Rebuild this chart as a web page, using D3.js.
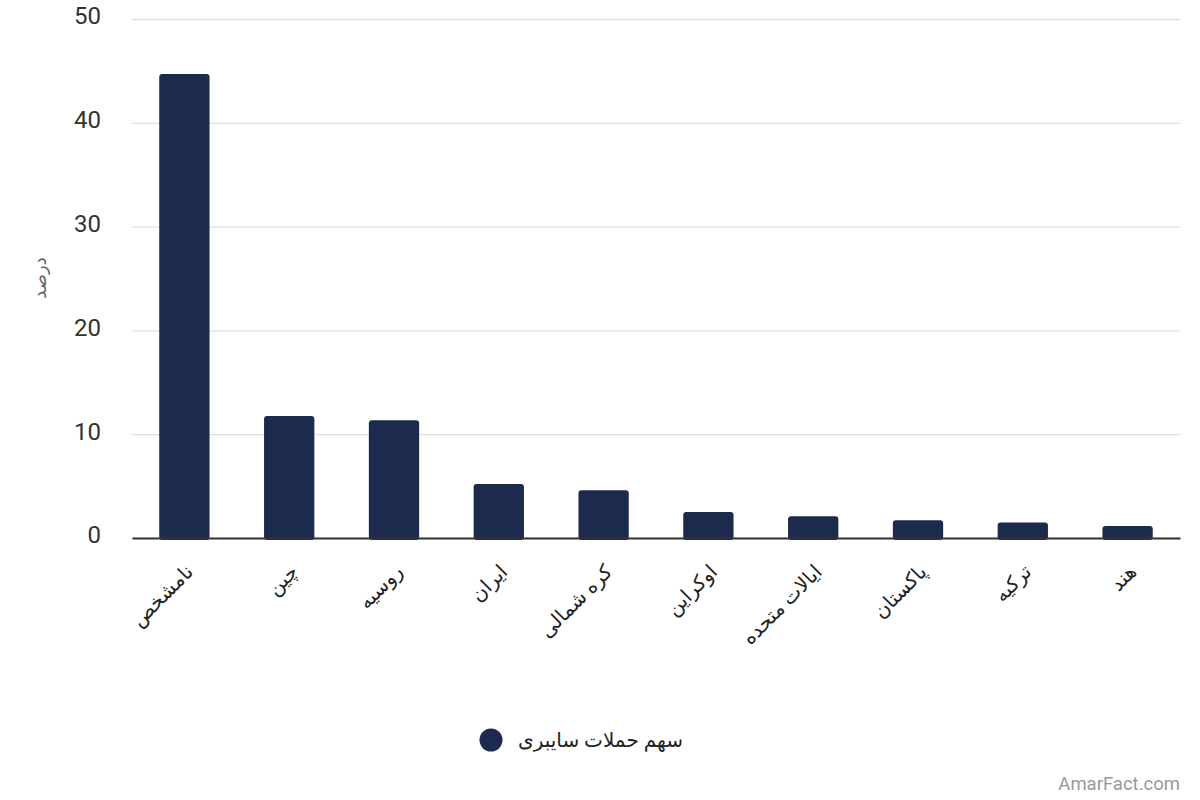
<!DOCTYPE html>
<html>
<head>
<meta charset="utf-8">
<script src="https://cdn.jsdelivr.net/npm/d3@7"></script>
<style>
  body { margin: 0; background: #fff; }
  text { font-family: Roboto, "DejaVu Sans", sans-serif; }
</style>
</head>
<body>
<div class="chart"></div>
<script>
const countries = ['نامشخص', 'چین', 'روسیه', 'ایران', 'کره شمالی', 'اوکراین', 'ایالات متحده', 'پاکستان', 'ترکیه', 'هند'];
const shares = [44.7, 11.75, 11.35, 5.2, 4.6, 2.5, 2.1, 1.7, 1.5, 1.15];
const yTicks = [0, 10, 20, 30, 40, 50];
const seriesName = 'سهم حملات سایبری';
const yTitle = 'درصد';

const margin = { top: 19, right: 20, bottom: 262, left: 132 };
const width = 1200 - margin.left - margin.right;
const height = 800 - margin.top - margin.bottom;
const barColor = '#1c2a4d';

const svg = d3.select('.chart')
  .append('svg')
  .attr('width', 1200)
  .attr('height', 800);

const g = svg.append('g')
  .attr('transform', `translate(${margin.left}, ${margin.top})`);

const x = d3.scaleBand().domain(countries).range([0, width]).paddingInner(0.52).paddingOuter(0.26);
const y = d3.scaleLinear().domain([0, 50]).range([height, 0]);

// grid
const yAxis = d3.axisLeft(y)
  .tickValues(yTicks)
  .tickSize(-width)
  .tickPadding(31);

g.append('g')
  .attr('class', 'axis y-axis')
  .call(yAxis)
  .call(s => s.select('.domain').remove())
  .call(s => s.selectAll('.tick line').attr('stroke', '#e0e0e0').attr('stroke-width', 1.3))
  .call(s => s.selectAll('.tick text')
    .attr('fill', '#333').attr('font-size', 24).attr('dy', '0.2em'));

// bars
g.selectAll('.bar')
  .data(countries)
  .enter()
  .append('rect')
  .attr('class', 'bar')
  .attr('x', d => x(d))
  .attr('width', x.bandwidth())
  .attr('y', (d, i) => y(shares[i]))
  .attr('height', (d, i) => height - y(shares[i]) + 2)
  .attr('rx', 3)
  .attr('fill', barColor);

// baseline
g.append('g')
  .attr('transform', `translate(0, ${height})`)
  .call(d3.axisBottom(x).tickSize(0).tickFormat(''))
  .call(s => s.select('.domain').attr('stroke', '#333').attr('stroke-width', 2));

// x labels
g.append('g')
  .selectAll('text')
  .data(countries)
  .enter()
  .append('text')
  .attr('transform', d => `translate(${x(d) + x.bandwidth() / 2 + 10}, ${height + 35}) rotate(-45)`)
  .attr('text-anchor', 'end')
  .attr('font-size', 20)
  .attr('fill', '#222')
  .text(d => d);

// y title
svg.append('text')
  .attr('transform', 'translate(46, 278) rotate(-90)')
  .attr('text-anchor', 'middle')
  .attr('font-size', 18)
  .attr('fill', '#666')
  .text(yTitle);

// legend
svg.append('circle')
  .attr('cx', 491)
  .attr('cy', 740)
  .attr('r', 11.5)
  .attr('fill', barColor);

svg.append('text')
  .attr('x', 518)
  .attr('y', 747)
  .attr('font-size', 20)
  .attr('fill', '#222')
  .text(seriesName);

// watermark
svg.append('text')
  .attr('x', 1180)
  .attr('y', 790)
  .attr('text-anchor', 'end')
  .attr('font-size', 18.5)
  .attr('fill', '#999')
  .text('AmarFact.com');
</script>
</body>
</html>
